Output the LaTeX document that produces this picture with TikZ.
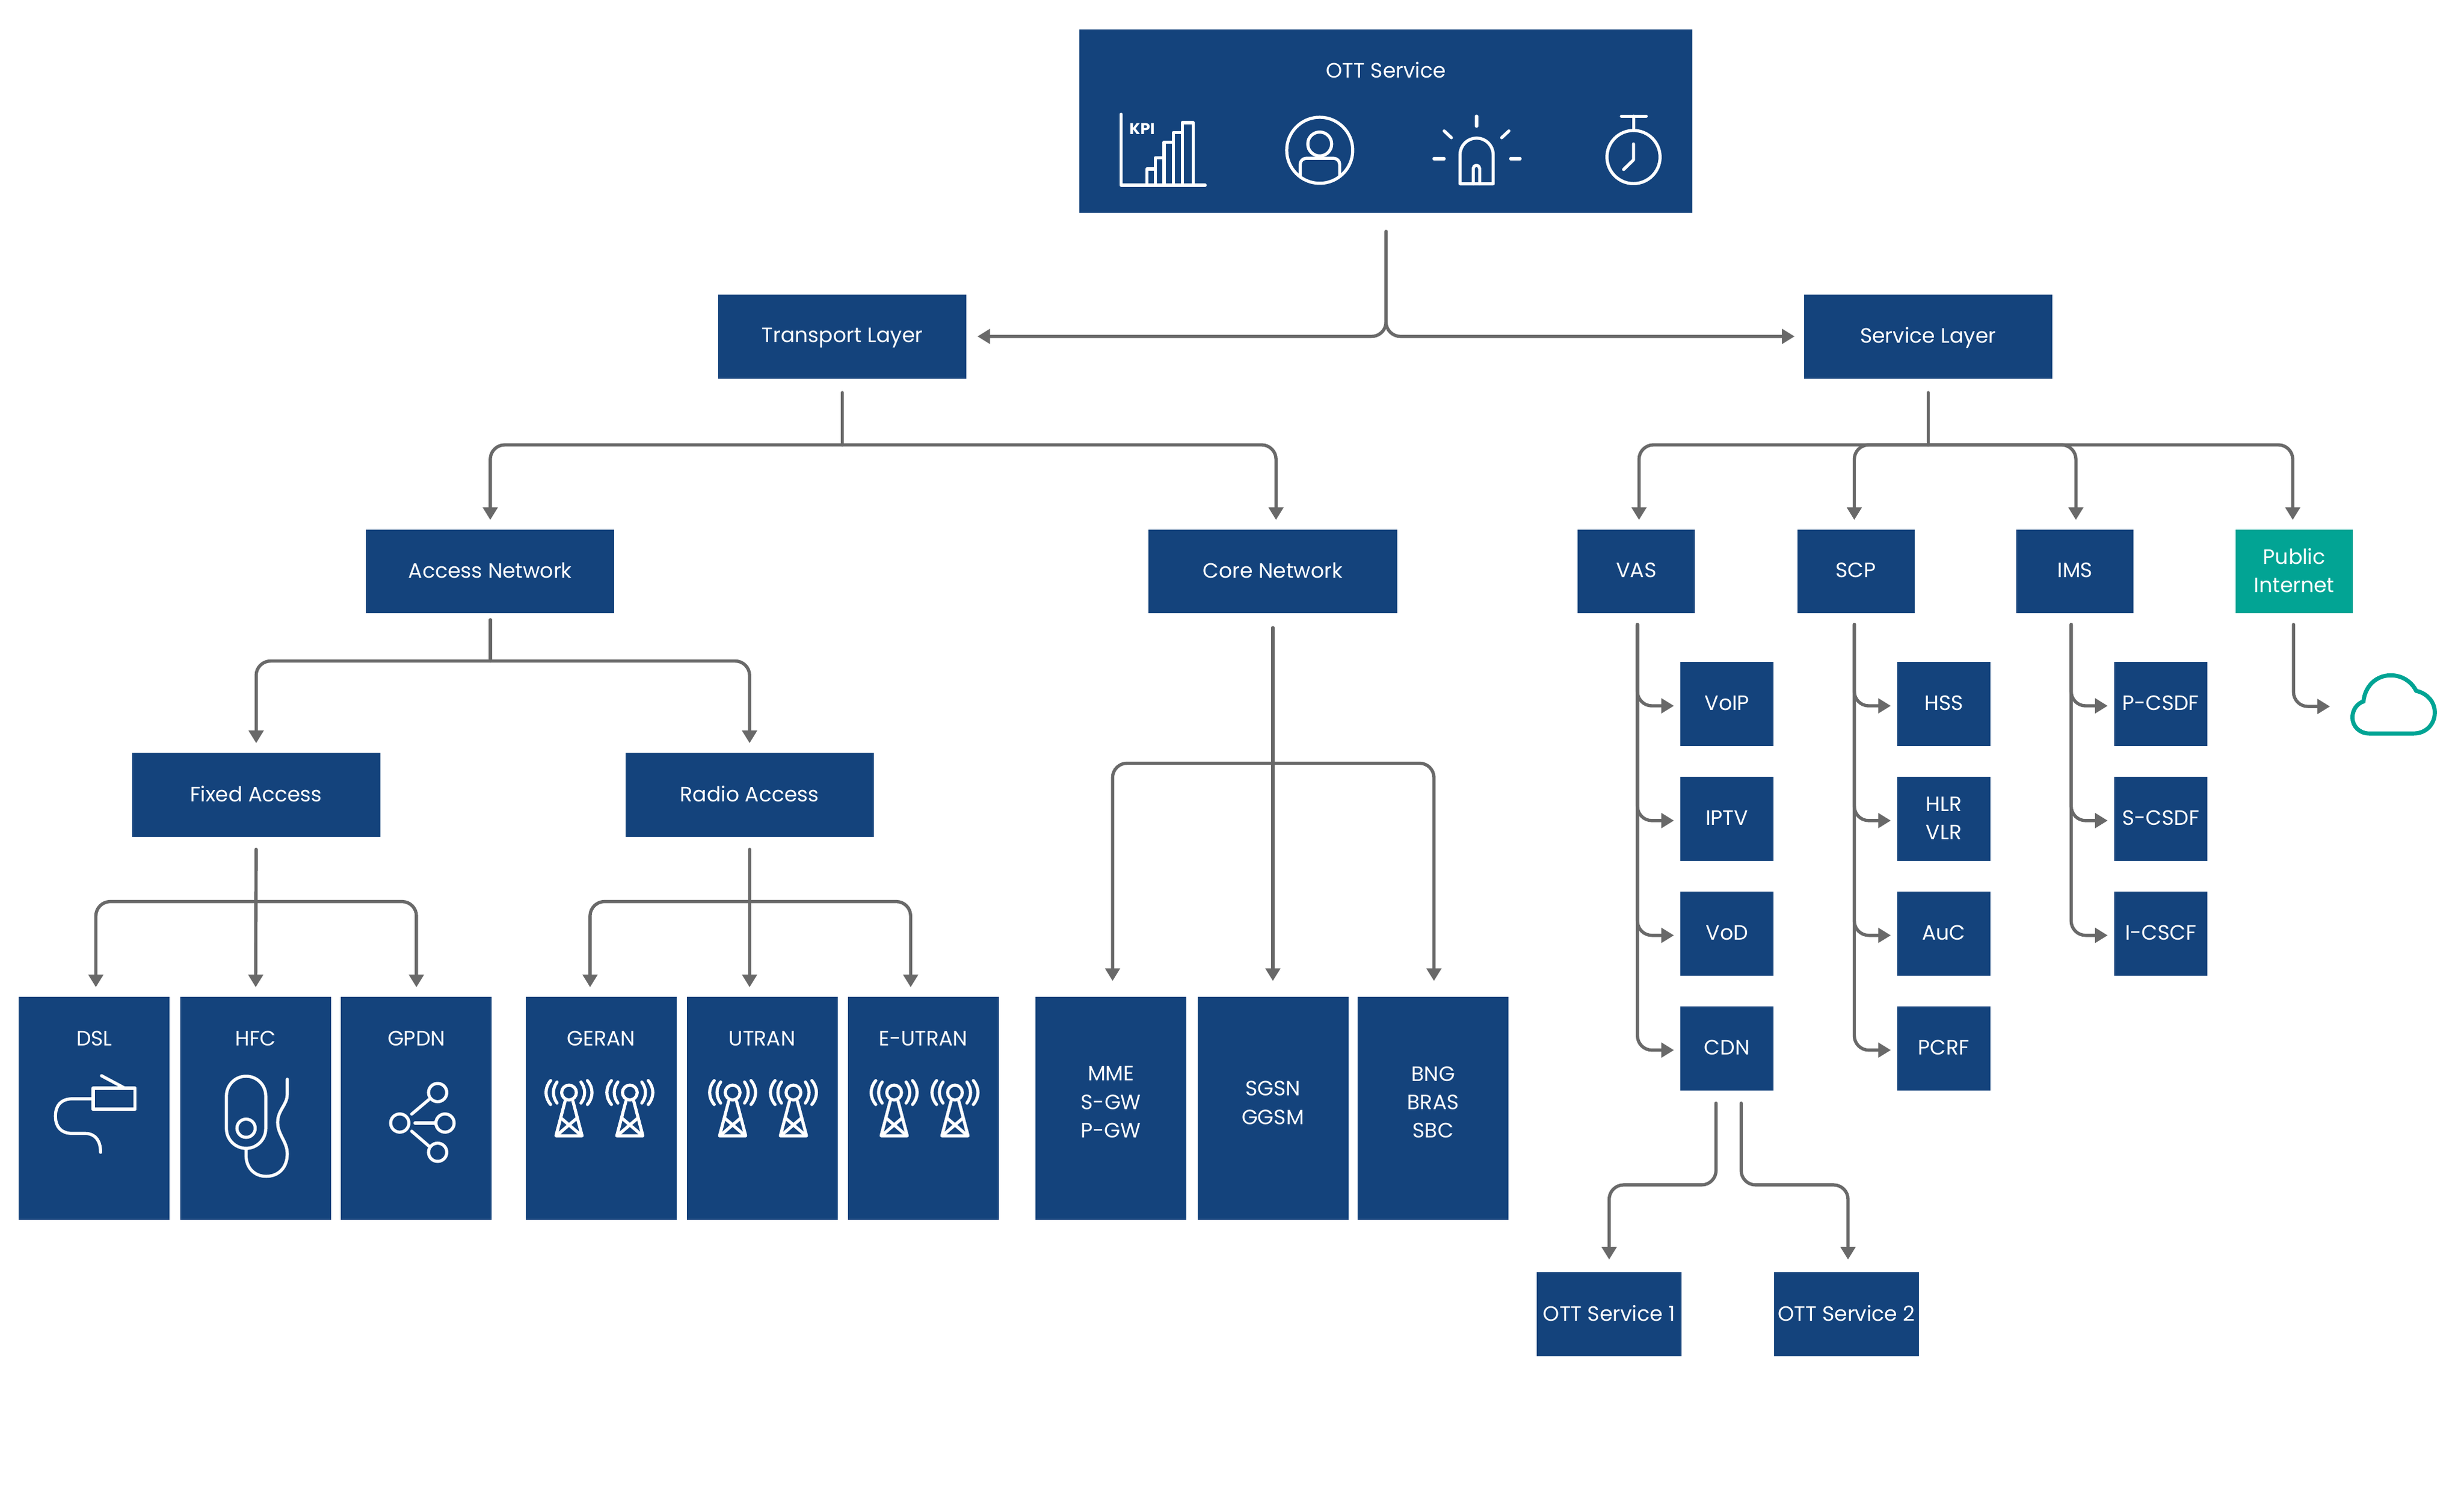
\documentclass[tikz,border=0pt]{standalone}
\usepackage{fontspec}
\setmainfont{Poppins}
\usetikzlibrary{arrows.meta}
\newcommand{\du}{0.026148cm}
\definecolor{boxblue}{HTML}{14437C}
\definecolor{boxteal}{HTML}{02A494}
\definecolor{linegray}{HTML}{696969}

\tikzset{
  pics/tower/.style={code={
    \draw[icon] (0,0) circle (4.7);
    \draw[icon] (-7.6,-6.7) .. controls (-10.7,-2.5) and (-10.7,2.5) .. (-7.6,6.7);
    \draw[icon] (7.6,-6.7) .. controls (10.7,-2.5) and (10.7,2.5) .. (7.6,6.7);
    \draw[icon] (-11.7,-7.6) .. controls (-15.6,-3) and (-15.6,3) .. (-11.7,7.6);
    \draw[icon] (11.7,-7.6) .. controls (15.6,-3) and (15.6,3) .. (11.7,7.6);
    \draw[icon] (-2.5,5.5) -- (-8.3,27.5) -- (8.3,27.5) -- (2.5,5.5);
    \draw[icon] (-7.5,27) -- (5,16.3) (7.5,27) -- (-5,16.3);
  }}
}

\begin{document}
\begin{tikzpicture}[x=\du,y=-\du,>={Triangle[length=0.21cm,width=0.24cm]},
  main node/.style={fill=boxblue,text=white,inner sep=0,outer sep=0,align=center,
    text depth=1pt,font=\fontsize{9.85}{13.4}\selectfont},
  wide node/.style={main node,minimum width=158*\du,minimum height=53.5*\du},
  small node/.style={main node,minimum width=59.5*\du,minimum height=53.5*\du},
  mid node/.style={main node,minimum width=74.5*\du,minimum height=53.5*\du},
  ott node/.style={main node,minimum width=92*\du,minimum height=53.5*\du},
  tall node/.style={main node,minimum width=96*\du,minimum height=142*\du},
  text node/.style={text=white,inner sep=0,align=center,text depth=0pt,
    font=\fontsize{9.85}{13.4}\selectfont},
  icon/.style={draw=white,line width=0.052cm,line cap=round,line join=round},
  trunk/.style={draw=linegray,line width=0.054cm,line cap=round},
  conn/.style={trunk,->,rounded corners=0.24cm,tipgap=6},
  startgap/.style={shorten <=#1*\du},
  tipgap/.style={shorten >=#1*\du}]

  \useasboundingbox (0,0) rectangle (1568,956.1);

  % top box
  \node[main node,minimum width=390*\du,minimum height=116.5*\du] (ott) at (882,77) {};
  \node[text node] (ott label) at (882,44.5) {OTT Service};

  % layers
  \node[wide node] (transport) at (536,214) {Transport Layer};
  \node[wide node] (service) at (1227,214) {Service Layer};
  \node[wide node] (access) at (312,363.5) {Access Network};
  \node[wide node] (core) at (810,363.5) {Core Network};
  \node[wide node] (fixed) at (163,505.5) {Fixed Access};
  \node[wide node] (radio) at (477,505.5) {Radio Access};

  \node[mid node] (vas) at (1041.3,363.5) {VAS};
  \node[mid node] (scp) at (1181,363.5) {SCP};
  \node[mid node] (ims) at (1320.5,363.5) {IMS};
  \node[mid node,fill=boxteal] (public) at (1460,363.5) {Public\\Internet};

  % tall boxes
  \node[tall node] (dsl) at (60,705) {};
  \node[tall node] (hfc) at (162.7,705) {};
  \node[tall node] (gpdn) at (265,705) {};
  \node[tall node] (geran) at (382.5,705) {};
  \node[tall node] (utran) at (485,705) {};
  \node[tall node] (eutran) at (587.5,705) {};
  \node[tall node] (mme) at (707,705) {};
  \node[tall node] (sgsn) at (810,705) {};
  \node[tall node] (bng) at (912,705) {};

  \node[text node] (dsl label) at (60,660.5) {DSL};
  \node[text node] (hfc label) at (162.7,660.5) {HFC};
  \node[text node] (gpdn label) at (265,660.5) {GPDN};
  \node[text node] (geran label) at (382.5,660.5) {GERAN};
  \node[text node] (utran label) at (485,660.5) {UTRAN};
  \node[text node] (eutran label) at (587.5,660.5) {E-UTRAN};
  \node[text node] (mme label) at (707,701) {MME\\S-GW\\P-GW};
  \node[text node] (sgsn label) at (810,701.5) {SGSN\\GGSM};
  \node[text node] (bng label) at (912,701) {BNG\\BRAS\\SBC};

  % small boxes
  \node[small node] (voip) at (1099,448) {VoIP};
  \node[small node] (iptv) at (1099,521) {IPTV};
  \node[small node] (vod) at (1099,594) {VoD};
  \node[small node] (cdn) at (1099,667) {CDN};
  \node[small node] (hss) at (1237,448) {HSS};
  \node[small node] (hlr) at (1237,521) {HLR\\VLR};
  \node[small node] (auc) at (1237,594) {AuC};
  \node[small node] (pcrf) at (1237,667) {PCRF};
  \node[small node] (pcsdf) at (1375,448) {P-CSDF};
  \node[small node] (scsdf) at (1375,521) {S-CSDF};
  \node[small node] (icscf) at (1375,594) {I-CSCF};
  \node[ott node] (ott one) at (1024,836) {OTT Service 1};
  \node[ott node] (ott two) at (1175,836) {OTT Service 2};

  \node[minimum width=52.4*\du,minimum height=37*\du,inner sep=0] (cloud) at (1523.2,449.4) {};

  \coordinate (transport fork) at (536,283);
  \coordinate (service fork) at (1227,283);
  \coordinate (access fork) at (312,420.5);
  \coordinate (core fork) at (810,485.5);
  \coordinate (fixed fork) at (163,573.5);
  \coordinate (radio fork) at (477,573.5);

  % connectors
  \draw[conn,startgap=12,tipgap=7] (ott.south) |- (transport.east);
  \draw[conn,startgap=12] (ott.south) |- (service.west);

  \draw[trunk,startgap=9] (transport.south) -- (transport fork);
  \draw[conn] (transport fork) -| (access.north);
  \draw[conn] (transport fork) -| ([shift={(2,0)}]core.north);

  \draw[trunk,startgap=9] (service.south) -- (service fork);
  \draw[conn] (service fork) -| ([shift={(1.7,0)}]vas.north);
  \draw[conn] (service fork) -| ([shift={(-1,0)}]scp.north);
  \draw[conn] (service fork) -| ([shift={(.5,0)}]ims.north);
  \draw[conn] (service fork) -| ([shift={(-1,0)}]public.north);

  \draw[trunk,startgap=4] (access.south) -- (access fork);
  \draw[conn] (access fork) -| (fixed.north);
  \draw[conn] (access fork) -| (radio.north);

  \draw[conn,startgap=8] (fixed.south) -- (hfc.north);
  \draw[conn] (fixed fork) -| ([shift={(1,0)}]dsl.north);
  \draw[conn] (fixed fork) -| (gpdn.north);

  \draw[conn,startgap=8] (radio.south) -- ([shift={(-8,0)}]utran.north);
  \draw[conn] (radio fork) -| ([shift={(-7,0)}]geran.north);
  \draw[conn] (radio fork) -| ([shift={(-8,0)}]eutran.north);

  \draw[conn,startgap=9,tipgap=10] (core.south) -- (sgsn.north);
  \draw[conn,tipgap=10] (core fork) -| ([shift={(1,0)}]mme.north);
  \draw[conn,tipgap=10] (core fork) -| ([shift={(.5,0)}]bng.north);

  \foreach \leaf in {voip,iptv,vod,cdn}
    \draw[conn,startgap=7,tipgap=4] ([shift={(.7,0)}]vas.south) |- ([shift={(0,1)}]\leaf.west);
  \foreach \leaf in {hss,hlr,auc,pcrf}
    \draw[conn,startgap=7,tipgap=4] ([shift={(-1,0)}]scp.south) |- ([shift={(0,1)}]\leaf.west);
  \foreach \leaf in {pcsdf,scsdf,icscf}
    \draw[conn,startgap=7,tipgap=4] ([shift={(-2.5,0)}]ims.south) |- ([shift={(0,1)}]\leaf.west);
  \draw[conn,startgap=7,tipgap=14] ([shift={(-.5,0)}]public.south) |- (cloud.west);

  \draw[conn,startgap=8,tipgap=8] ([shift={(-7,0)}]cdn.south) -- ++(0,60) -| (ott one.north);
  \draw[conn,startgap=8,tipgap=8] ([shift={(9,0)}]cdn.south) -- ++(0,60) -| ([shift={(1,0)}]ott two.north);

  % ott icons
  \draw[icon] (713.4,72.7) -- (713.4,117.8) -- (766.9,117.8);
  \draw[icon] (730,117.8) rectangle (735.3,107.5);
  \draw[icon] (735.3,117.8) rectangle (740.8,100.3);
  \draw[icon] (740.8,117.8) rectangle (746.6,90.4);
  \draw[icon] (746.6,117.8) rectangle (752.3,84.4);
  \draw[icon] (752.3,117.8) rectangle (759.2,78);
  \node[text=white,inner sep=0,font=\fontsize{7.4}{8}\selectfont\bfseries] (kpi) at (726.8,81.9) {KPI};

  \draw[icon] (839.8,95.6) circle (21);
  \draw[icon] (839.8,91.6) circle (7.6);
  \draw[icon,rounded corners=0.1cm] (827.4,112) -- (827.4,100.7) -- (852.5,100.7) -- (852.5,112);

  \draw[icon] (929.1,116.9) -- (929.1,98.4) arc[start angle=180,end angle=360,radius=10.55] -- (950.2,116.9) -- cycle;
  \draw[icon] (937.5,116.9) -- (937.5,107.2) arc[start angle=180,end angle=360,radius=2.05] -- (941.6,116.9);
  \draw[icon] (939.6,73.9) -- (939.6,80.3);
  \draw[icon] (919,83.3) -- (923.6,87.6);
  \draw[icon] (960.2,83.3) -- (955.6,87.6);
  \draw[icon] (912.5,101) -- (919,101);
  \draw[icon] (961.3,101) -- (967.3,101);

  \draw[icon] (1039.5,99.9) circle (16.9);
  \draw[icon] (1031.8,73.9) -- (1047.6,73.9);
  \draw[icon] (1039.5,73.9) -- (1039.5,83);
  \draw[icon] (1039.5,91.6) -- (1039.5,101.7) -- (1033.2,107.8);

  % dsl
  \draw[icon] (59.3,692.2) rectangle (86,705.6);
  \draw[icon] (64.6,684.3) -- (79.4,692.2);
  \draw[icon] (59.3,699) -- (46,699) .. controls (39,699) and (35.3,703) .. (35.3,710)
    .. controls (35.3,717) and (39,721) .. (46,721) -- (54,721)
    .. controls (61,721) and (64,726) .. (64,733);

  % hfc
  \draw[icon] (144.1,697.1) arc[start angle=180,end angle=360,radius=12.5] -- (169.1,718)
    arc[start angle=0,end angle=180,radius=12.5] -- cycle;
  \draw[icon] (156.6,717.7) circle (5.8);
  \draw[icon] (156.6,731) -- (156.6,735) .. controls (156.6,743) and (162,748.3) .. (169.4,748.3)
    .. controls (177,748.3) and (182.8,743) .. (182.8,734)
    .. controls (182.8,726) and (176.7,722) .. (176.7,714)
    .. controls (176.7,706) and (182.8,703) .. (182.8,696) -- (182.8,686.5);

  % gpdn
  \draw[icon] (254.4,714.4) circle (5.8);
  \draw[icon] (278.5,695) circle (5.8);
  \draw[icon] (283.2,714.4) circle (5.8);
  \draw[icon] (278.5,733) circle (5.8);
  \draw[icon] (262,708.7) -- (272.9,699.5);
  \draw[icon] (264.1,714.4) -- (276.9,714.4);
  \draw[icon] (262,719.6) -- (272.9,729);

  % radio towers
  \foreach \mast in {362.1,400.8,466.2,504.9,569,607.7}
    \pic at (\mast,695) {tower};

  % cloud
  \draw[draw=boxteal,line width=0.069cm] (1507.6,466.6) .. controls (1501.5,466.6) and (1497,462) .. (1497,456.4)
    .. controls (1497,451.5) and (1500,447.5) .. (1504,446.2)
    .. controls (1505,436.5) and (1512,429.6) .. (1521.4,429.6)
    .. controls (1528.5,429.6) and (1534.5,433.5) .. (1537.6,439.5)
    .. controls (1544.5,441) and (1549.4,446.5) .. (1549.4,453.2)
    .. controls (1549.4,461) and (1543.5,466.6) .. (1536,466.6) -- cycle;

\end{tikzpicture}
\end{document}
